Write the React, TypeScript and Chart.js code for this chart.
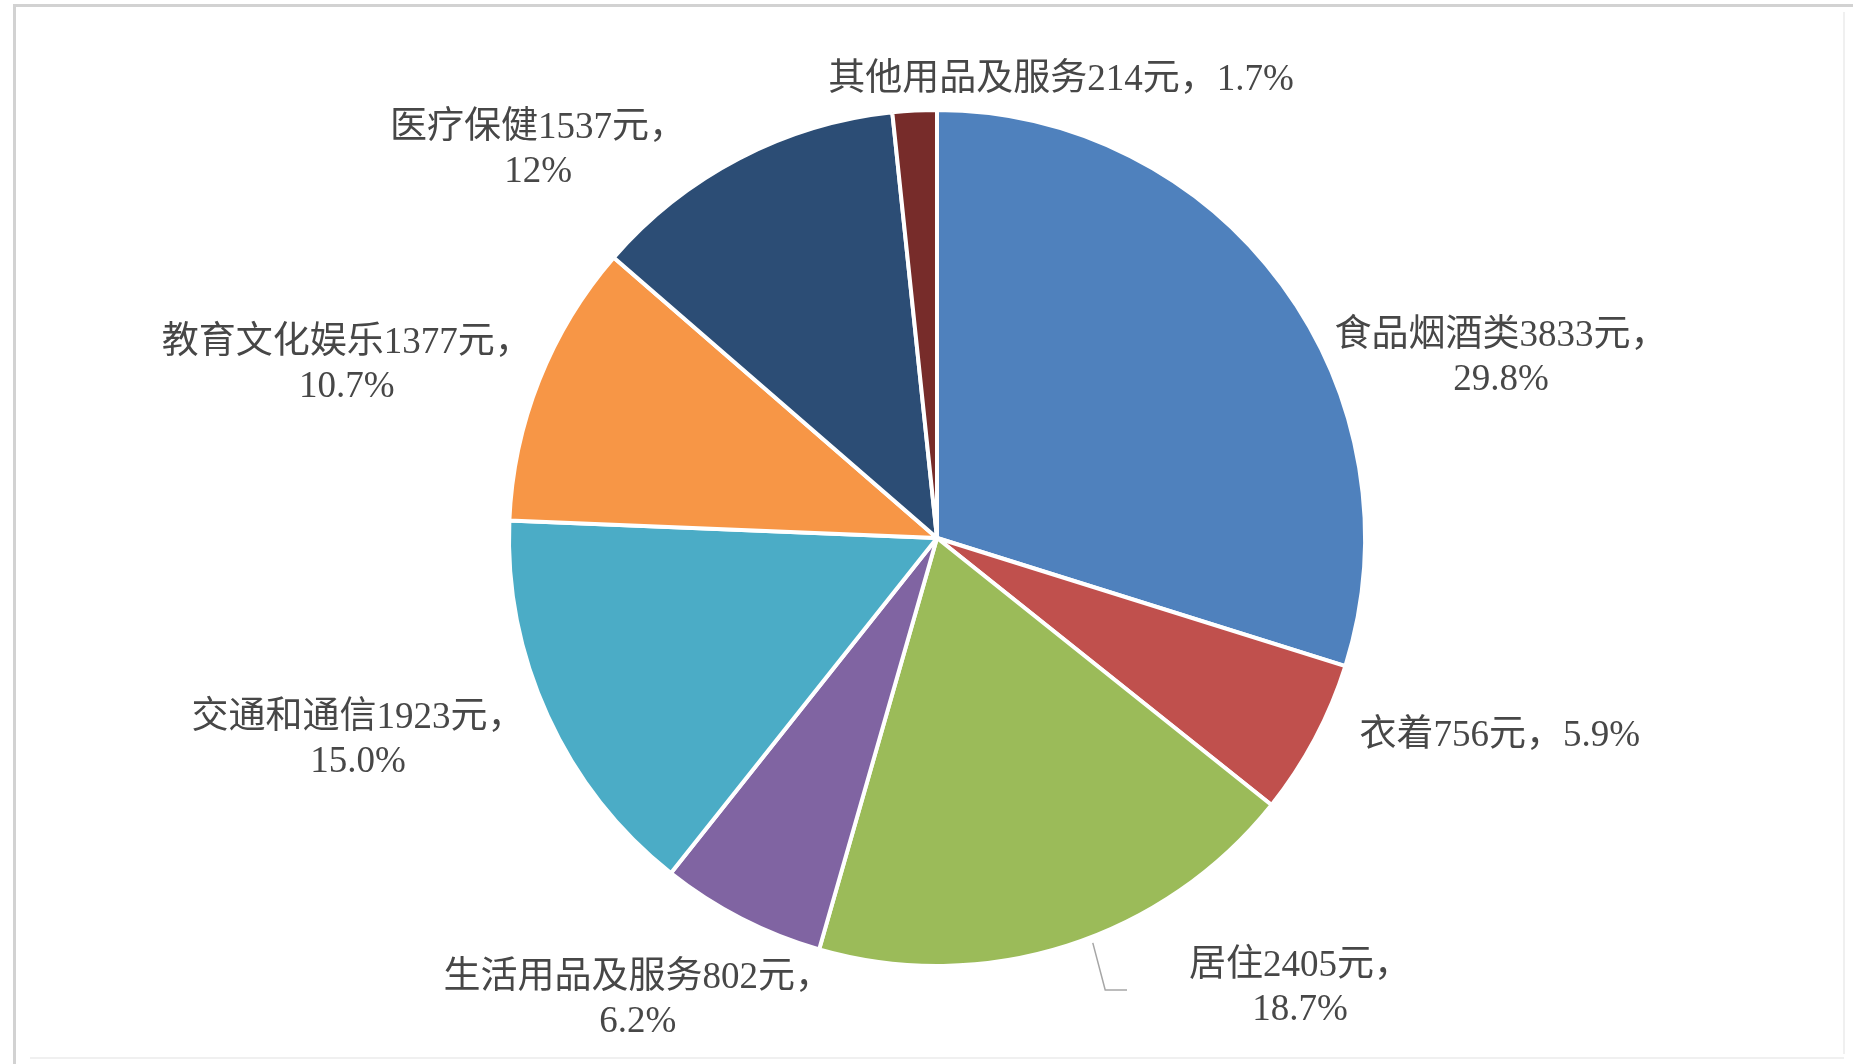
import React, { useEffect, useRef } from "react";
import { Chart, registerables } from "chart.js";

Chart.register(...registerables);

const categories = [
  "食品烟酒类",
  "衣着",
  "居住",
  "生活用品及服务",
  "交通和通信",
  "教育文化娱乐",
  "医疗保健",
  "其他用品及服务",
];
const values = [3833, 756, 2405, 802, 1923, 1377, 1537, 214];
const percentLabels = ["29.8%", "5.9%", "18.7%", "6.2%", "15.0%", "10.7%", "12%", "1.7%"];
const singleLine = [false, true, false, false, false, false, false, true];
const sliceColors = [
  "#4f81bd",
  "#c0504d",
  "#9bbb59",
  "#8064a2",
  "#4bacc6",
  "#f79646",
  "#2c4d75",
  "#772c2a",
];
// label centres, in units of the pie radius, relative to the pie centre
const labelPos: [number, number][] = [
  [1.318, -0.421],
  [1.315, 0.463],
  [0.848, 1.051],
  [-0.699, 1.079],
  [-1.353, 0.472],
  [-1.379, -0.404],
  [-0.932, -0.907],
  [0.29, -1.07],
];
// leader line for 居住 (radius units)
const leaderPts: [number, number][] = [
  [0.364, 0.946],
  [0.393, 1.056],
  [0.444, 1.056],
];

const FONT = '37px "Liberation Serif", "Noto Sans CJK SC", serif';

const framePlugin = {
  id: "frame",
  beforeDraw(chart: any) {
    const { ctx, width, height } = chart;
    ctx.save();
    ctx.fillStyle = "#ffffff";
    ctx.fillRect(0, 0, width, height);
    ctx.strokeStyle = "#d2d2d2";
    ctx.lineWidth = 3;
    ctx.beginPath();
    ctx.moveTo(13, 5.5);
    ctx.lineTo(width, 5.5);
    ctx.moveTo(14.5, 4);
    ctx.lineTo(14.5, height);
    ctx.stroke();
    ctx.strokeStyle = "#f0f0f0";
    ctx.lineWidth = 2;
    ctx.beginPath();
    ctx.moveTo(1844, 12);
    ctx.lineTo(1844, height - 10);
    ctx.moveTo(30, 1058);
    ctx.lineTo(1844, 1058);
    ctx.stroke();
    ctx.restore();
  },
};

const labelPlugin = {
  id: "sliceLabels",
  afterDatasetsDraw(chart: any) {
    const meta = chart.getDatasetMeta(0);
    const arc0 = meta.data[0];
    if (!arc0) return;
    const cx = arc0.x;
    const cy = arc0.y;
    const r = arc0.outerRadius;
    const { ctx } = chart;
    ctx.save();
    ctx.font = FONT;
    ctx.fillStyle = "#474747";
    ctx.textAlign = "center";
    ctx.textBaseline = "middle";
    const lineGap = 44;
    categories.forEach((name, i) => {
      const x = cx + labelPos[i][0] * r;
      const y = cy + labelPos[i][1] * r;
      const first = `${name}${values[i]}元，`;
      if (singleLine[i]) {
        ctx.fillText(first + percentLabels[i], x, y);
      } else {
        ctx.fillText(first, x, y - lineGap / 2);
        ctx.fillText(percentLabels[i], x, y + lineGap / 2);
      }
    });
    // leader line for 居住
    ctx.strokeStyle = "#a6a6a6";
    ctx.lineWidth = 1.5;
    ctx.beginPath();
    leaderPts.forEach((p, k) => {
      const px = cx + p[0] * r;
      const py = cy + p[1] * r;
      if (k === 0) ctx.moveTo(px, py);
      else ctx.lineTo(px, py);
    });
    ctx.stroke();
    ctx.restore();
  },
};

export default function App() {
  const canvasRef = useRef<HTMLCanvasElement | null>(null);

  useEffect(() => {
    document.body.style.margin = "0";
    const canvas = canvasRef.current;
    if (!canvas) return;
    const chart = new Chart(canvas, {
      type: "pie",
      data: {
        labels: categories,
        datasets: [
          {
            data: values,
            backgroundColor: sliceColors,
            borderColor: "#ffffff",
            borderWidth: 4,
            hoverOffset: 0,
          },
        ],
      },
      options: {
        animation: false,
        responsive: false,
        maintainAspectRatio: false,
        radius: 428,
        rotation: 0,
        layout: { padding: { left: 21, right: 0, top: 12, bottom: 0 } },
        plugins: {
          legend: { display: false },
          tooltip: { enabled: false },
        },
        events: [],
      } as any,
      plugins: [framePlugin, labelPlugin],
    });
    return () => chart.destroy();
  }, []);

  return (
    <div style={{ position: "fixed", left: 0, top: 0, width: 1853, height: 1064 }}>
      <canvas ref={canvasRef} width={1853} height={1064} style={{ width: 1853, height: 1064, display: "block" }} />
    </div>
  );
}
